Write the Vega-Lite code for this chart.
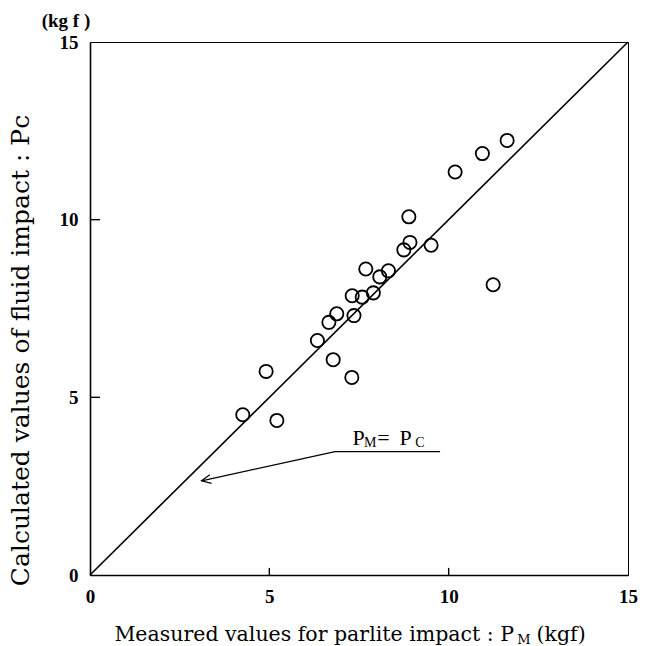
{
  "$schema": "https://vega.github.io/schema/vega-lite/v6.json",
  "width": 538,
  "height": 533,
  "autosize": {"type": "none"},
  "padding": {"left": 90, "top": 42, "right": 17, "bottom": 71},
  "background": "white",
  "config": {"view": {"stroke": "black", "strokeWidth": 1}, "font": "DejaVu Serif"},
  "datasets": {
    "diag": [{"x": 0, "y": 0}, {"x": 15, "y": 15}],
    "pts": [
      {"x": 4.26, "y": 4.51}, {"x": 4.91, "y": 5.73}, {"x": 5.21, "y": 4.35}, {"x": 6.34, "y": 6.60},
      {"x": 6.78, "y": 6.06}, {"x": 6.66, "y": 7.11}, {"x": 6.88, "y": 7.35}, {"x": 7.36, "y": 7.30},
      {"x": 7.30, "y": 5.56}, {"x": 7.31, "y": 7.86}, {"x": 7.59, "y": 7.82}, {"x": 7.90, "y": 7.94},
      {"x": 7.69, "y": 8.61}, {"x": 8.08, "y": 8.39}, {"x": 8.32, "y": 8.56}, {"x": 8.75, "y": 9.15},
      {"x": 8.92, "y": 9.36}, {"x": 8.89, "y": 10.08}, {"x": 9.51, "y": 9.28}, {"x": 11.24, "y": 8.17},
      {"x": 10.18, "y": 11.34}, {"x": 10.94, "y": 11.86}, {"x": 11.63, "y": 12.23}
    ],
    "ticks": [
      {"x": 5, "y": 0, "x2": 5, "y2": 0.2}, {"x": 10, "y": 0, "x2": 10, "y2": 0.2},
      {"x": 0, "y": 5, "x2": 0.28, "y2": 5}, {"x": 0, "y": 10, "x2": 0.28, "y2": 10}
    ],
    "arrow": [
      {"seg": "a", "o": 1, "x": 9.76, "y": 3.47}, {"seg": "a", "o": 2, "x": 6.83, "y": 3.47}, {"seg": "a", "o": 3, "x": 3.11, "y": 2.65},
      {"seg": "b", "o": 1, "x": 3.39, "y": 2.58}, {"seg": "b", "o": 2, "x": 3.11, "y": 2.65}, {"seg": "b", "o": 3, "x": 3.34, "y": 2.82}
    ],
    "bigtext": [
      {"x": 7.49, "y": 3.66, "t": "P"}, {"x": 8.18, "y": 3.66, "t": "="}, {"x": 8.80, "y": 3.66, "t": "P"}
    ],
    "smalltext": [
      {"x": 7.81, "y": 3.61, "t": "M"}, {"x": 9.2, "y": 3.61, "t": "C"}
    ],
    "xtitleL": [{"x": 11.82, "y": -1.86, "t": "Measured values for parlite impact :  P"}],
    "xtitleM": [{"x": 12.1, "y": -1.95, "t": "M"}],
    "xtitleR": [{"x": 12.45, "y": -1.86, "t": "(kgf)"}],
    "unit": [{"x": -0.67, "y": 15.6, "t": "(kg f )"}]
  },
  "layer": [
    {
      "data": {"name": "diag"},
      "mark": {"type": "line", "color": "black", "strokeWidth": 1.6},
      "encoding": {
        "x": {
          "field": "x", "type": "quantitative",
          "scale": {"domain": [0, 15], "nice": false},
          "axis": {
            "values": [0, 5, 10, 15], "title": null, "grid": false, "ticks": false,
            "domainColor": "black", "domainWidth": 1.6,
            "labelPadding": 12, "labelFont": "Liberation Serif", "labelFontSize": 19,
            "labelFontWeight": "bold", "labelColor": "black", "labelFlush": false, "labelOverlap": false
          }
        },
        "y": {
          "field": "y", "type": "quantitative",
          "scale": {"domain": [0, 15], "nice": false},
          "axis": {
            "values": [0, 5, 10, 15], "grid": false, "ticks": false,
            "title": "Calculated values of fluid impact : Pc",
            "titleFont": "DejaVu Serif", "titleFontSize": 25, "titleFontWeight": "normal", "titleColor": "black",
            "titleX": -70, "titleY": 308, "titleAngle": -90, "titleAlign": "center", "titleBaseline": "middle",
            "domainColor": "black", "domainWidth": 1.6,
            "labelPadding": 12, "labelFont": "Liberation Serif", "labelFontSize": 19,
            "labelFontWeight": "bold", "labelColor": "black", "labelFlush": false, "labelOverlap": false
          }
        }
      }
    },
    {
      "data": {"name": "ticks"},
      "mark": {"type": "rule", "color": "black", "strokeWidth": 1.4},
      "encoding": {
        "x": {"field": "x", "type": "quantitative"},
        "y": {"field": "y", "type": "quantitative"},
        "x2": {"field": "x2"},
        "y2": {"field": "y2"}
      }
    },
    {
      "data": {"name": "pts"},
      "mark": {"type": "point", "shape": "circle", "filled": false, "stroke": "black", "strokeWidth": 1.8, "size": 175, "opacity": 1},
      "encoding": {
        "x": {"field": "x", "type": "quantitative"},
        "y": {"field": "y", "type": "quantitative"}
      }
    },
    {
      "data": {"name": "arrow"},
      "mark": {"type": "line", "color": "black", "strokeWidth": 1.2},
      "encoding": {
        "x": {"field": "x", "type": "quantitative"},
        "y": {"field": "y", "type": "quantitative"},
        "detail": {"field": "seg"},
        "order": {"field": "o", "type": "quantitative"}
      }
    },
    {
      "data": {"name": "bigtext"},
      "mark": {"type": "text", "font": "Liberation Serif", "fontSize": 22, "color": "black", "align": "center", "baseline": "alphabetic"},
      "encoding": {
        "x": {"field": "x", "type": "quantitative"},
        "y": {"field": "y", "type": "quantitative"},
        "text": {"field": "t"}
      }
    },
    {
      "data": {"name": "smalltext"},
      "mark": {"type": "text", "font": "Liberation Serif", "fontSize": 14, "color": "black", "align": "center", "baseline": "alphabetic"},
      "encoding": {
        "x": {"field": "x", "type": "quantitative"},
        "y": {"field": "y", "type": "quantitative"},
        "text": {"field": "t"}
      }
    },
    {
      "data": {"name": "xtitleL"},
      "mark": {"type": "text", "font": "DejaVu Serif", "fontSize": 20.5, "color": "black", "align": "right", "baseline": "alphabetic"},
      "encoding": {
        "x": {"field": "x", "type": "quantitative"},
        "y": {"field": "y", "type": "quantitative"},
        "text": {"field": "t"}
      }
    },
    {
      "data": {"name": "xtitleM"},
      "mark": {"type": "text", "font": "DejaVu Serif", "fontSize": 13, "color": "black", "align": "center", "baseline": "alphabetic"},
      "encoding": {
        "x": {"field": "x", "type": "quantitative"},
        "y": {"field": "y", "type": "quantitative"},
        "text": {"field": "t"}
      }
    },
    {
      "data": {"name": "xtitleR"},
      "mark": {"type": "text", "font": "DejaVu Serif", "fontSize": 20.5, "color": "black", "align": "left", "baseline": "alphabetic"},
      "encoding": {
        "x": {"field": "x", "type": "quantitative"},
        "y": {"field": "y", "type": "quantitative"},
        "text": {"field": "t"}
      }
    },
    {
      "data": {"name": "unit"},
      "mark": {"type": "text", "font": "Liberation Serif", "fontSize": 19, "fontWeight": "bold", "color": "black", "align": "center", "baseline": "middle"},
      "encoding": {
        "x": {"field": "x", "type": "quantitative"},
        "y": {"field": "y", "type": "quantitative"},
        "text": {"field": "t"}
      }
    }
  ]
}
